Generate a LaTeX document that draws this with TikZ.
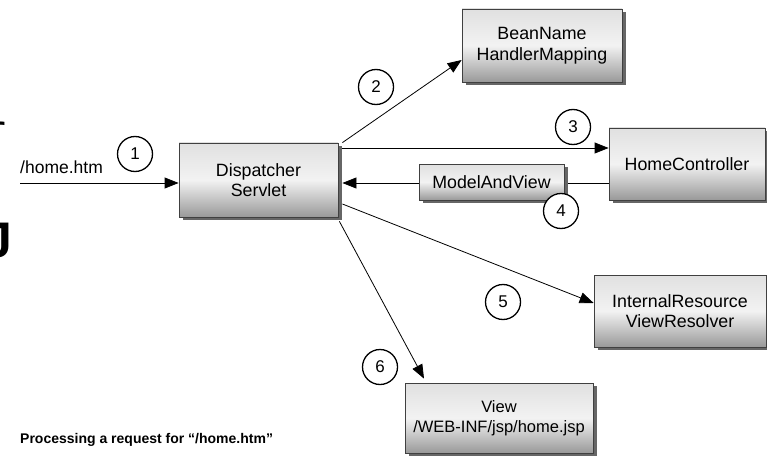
\documentclass[tikz,border=0pt]{standalone}
\usepackage{fontspec}
\setmainfont{Liberation Sans}
\setmonofont{Liberation Mono}
\usetikzlibrary{arrows.meta,shadows,calc}

\begin{document}
\begin{tikzpicture}[x=1pt,y=-1pt,
  box/.style={draw=black!75, line width=0.8pt, shading=axis,
    top color=black!12, bottom color=black!40, middle color=black!5,
    drop shadow={shadow xshift=4pt, shadow yshift=-3pt, fill=black!60, opacity=1},
    inner sep=0pt, align=center, font=\fontsize{17.8}{20.5}\selectfont},
  flow/.style={line width=0.8pt, -{Triangle[length=14pt,width=11pt]}},
  num/.style={circle, draw, line width=1.3pt, minimum size=35pt, inner sep=0pt,
    fill=white, font=\fontsize{17}{17}\selectfont},
  lbl/.style={inner sep=0pt, font=\fontsize{17.5}{17.5}\selectfont}]

\clip (0,0) rectangle (767,457);
\fill[white] (0,0) rectangle (767,457);

% text fragments cut off at the left edge
\node[anchor=base east, inner sep=0pt, font=\ttfamily\fontsize{40}{40}\selectfont] (frag1) at (9,143) {r};
\node[anchor=base east, inner sep=0pt, font=\bfseries\fontsize{50}{50}\selectfont] (frag2) at (13,257) {J};

% components
\node[box, minimum width=159pt, minimum height=74pt] (disp) at (258.5,180) {Dispatcher\\Servlet};
\node[box, minimum width=160pt, minimum height=73pt] (bean) at (542,45.5) {BeanName\\HandlerMapping};
\node[box, minimum width=156pt, minimum height=72pt] (home) at (687,164) {HomeController};
\node[box, minimum width=172pt, minimum height=72pt] (irvr) at (680,311) {InternalResource\\ViewResolver};
\node[box, minimum width=188pt, minimum height=70pt, font=\fontsize{16.5}{20.5}\selectfont] (view) at (499,418) {View\\/WEB-INF/jsp/home.jsp};

% request flow
\coordinate (req) at (20,183);
\draw[flow] (req) -- (req -| disp.west);
\node[lbl, anchor=base west] (url) at (20,173) {/home.htm};

\draw[flow] ([xshift=4pt]disp.north east) -- ([yshift=-14.5pt]bean.west);

\coordinate (c3) at ([xshift=4pt,yshift=32pt]disp.east);
\draw[flow] (c3) -- (c3 -| home.west);

\coordinate (de) at ([xshift=4pt]disp.east);
\coordinate (c4) at ([yshift=-19pt]home.west);
\draw[flow] (c4) -- (c4 -| de);

\draw[flow] ([xshift=4pt,yshift=-24pt]disp.east) -- ([yshift=8pt]irvr.west);
\draw[flow] ([xshift=1pt,yshift=-4pt]disp.south east) -- ([xshift=-75pt,yshift=4pt]view.north);

% returned model sits on the return line
\node[box, minimum width=145pt, minimum height=36pt] (mav) at (491.5,182) {ModelAndView};

% step numbers
\node[num] (n1) at (135,154) {1};
\node[num] (n2) at (376,87) {2};
\node[num] (n3) at (573,127) {3};
\node[num] (n4) at (561,211) {4};
\node[num] (n5) at (503,302) {5};
\node[num] (n6) at (380,367) {6};

% caption
\node[anchor=base west, inner sep=0pt, font=\bfseries\fontsize{14}{14}\selectfont] (cap) at (20,443)
  {Processing a request for “/home.htm”};
\end{tikzpicture}
\end{document}
